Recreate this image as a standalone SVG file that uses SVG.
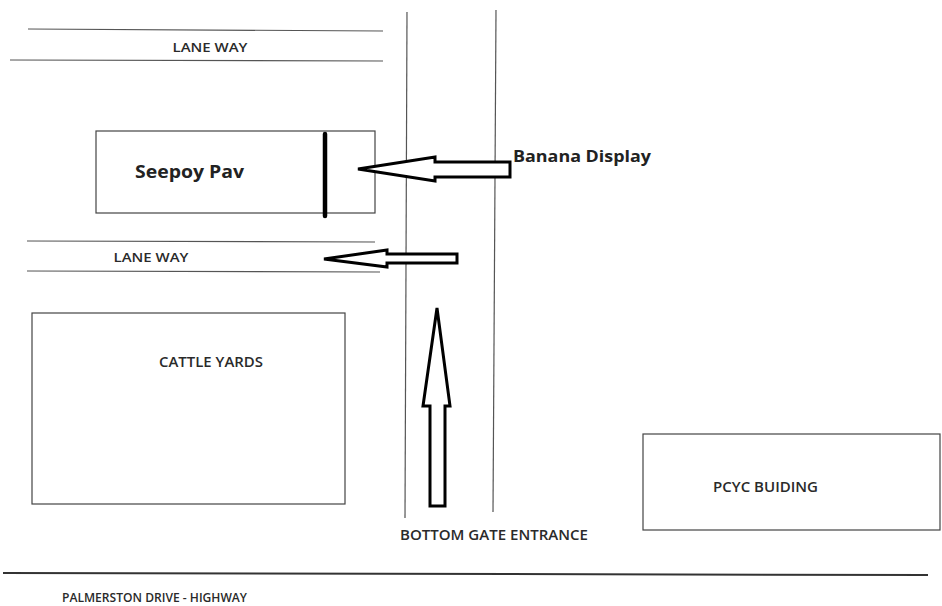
<svg xmlns="http://www.w3.org/2000/svg" width="942" height="606" viewBox="0 0 942 606">
<style>
.ln{stroke:#555;stroke-width:1.2;fill:none}
.box{stroke:#444;stroke-width:1.2;fill:none}
.arr{stroke:#000;stroke-width:3;fill:#fff;stroke-linejoin:miter}
.t{font-family:"Open Sans","Liberation Sans",sans-serif;fill:#2a2a2a;font-weight:600}
.tb{font-family:"Open Sans","Liberation Sans",sans-serif;fill:#222;font-weight:bold}
</style>
<rect width="942" height="606" fill="#fff"/>
<g id="roads">
<line class="ln" x1="28" y1="29" x2="383" y2="31"/>
<line class="ln" x1="10" y1="60" x2="383" y2="61"/>
<line class="ln" x1="27" y1="241" x2="375" y2="242"/>
<line class="ln" x1="27" y1="271" x2="380" y2="272"/>
<line class="ln" x1="407" y1="12" x2="405" y2="518"/>
<line class="ln" x1="496" y1="10" x2="493" y2="512"/>
<line stroke="#333" stroke-width="2" x1="3" y1="573" x2="928" y2="575"/>
</g>
<g id="lane-way-top"><text class="t" x="210" y="52" font-size="13" text-anchor="middle" textLength="75" lengthAdjust="spacingAndGlyphs">LANE WAY</text></g>
<g id="lane-way-mid"><text class="t" x="151" y="262" font-size="13" text-anchor="middle" textLength="75" lengthAdjust="spacingAndGlyphs">LANE WAY</text></g>
<g id="seepoy-pav">
<rect class="box" x="96" y="131" width="279" height="82"/>
<line stroke="#000" stroke-width="4.5" stroke-linecap="round" x1="325" y1="134" x2="325" y2="216"/>
<text class="tb" x="135" y="178" font-size="17" textLength="109" lengthAdjust="spacingAndGlyphs">Seepoy Pav</text>
</g>
<g id="cattle-yards">
<rect class="box" x="32" y="313" width="313" height="191"/>
<text class="t" x="159" y="367" font-size="13.5" textLength="104" lengthAdjust="spacingAndGlyphs">CATTLE YARDS</text>
</g>
<g id="pcyc">
<rect class="box" x="643" y="434" width="297" height="96"/>
<text class="t" x="713" y="492" font-size="13.5" textLength="105" lengthAdjust="spacingAndGlyphs">PCYC BUIDING</text>
</g>
<g id="labels">
<text class="tb" x="513" y="162" font-size="16.5" textLength="138" lengthAdjust="spacingAndGlyphs">Banana Display</text>
<text class="t" x="400" y="540" font-size="13.5" textLength="188" lengthAdjust="spacingAndGlyphs">BOTTOM GATE ENTRANCE</text>
<text class="t" x="62" y="602" font-size="13" textLength="185" lengthAdjust="spacingAndGlyphs">PALMERSTON DRIVE - HIGHWAY</text>
</g>
<g id="connectors">
<polygon class="arr" points="358,169 435,157 435,162 510,162 510,177 435,177 435,181"/>
<polygon class="arr" points="324,259 387,250 387,254 457,254 457,263 387,263 387,267"/>
<polygon class="arr" points="437,308 450,406 445,406 445,506 430,506 430,406 423,406"/>
</g>
</svg>
